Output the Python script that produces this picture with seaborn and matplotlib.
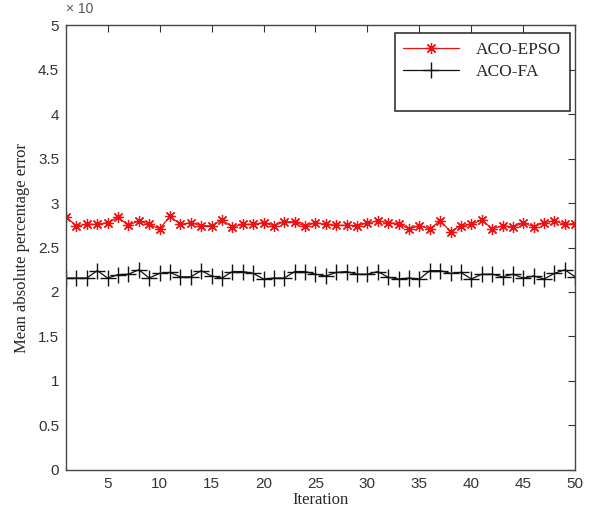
import numpy as np
import pandas as pd
import seaborn as sns
import matplotlib.pyplot as plt
from matplotlib.lines import Line2D

# Data (values in units of 10^x)
iterations = list(range(1, 51))
aco_epso = [2.84, 2.745, 2.76, 2.76, 2.78, 2.84, 2.75, 2.80, 2.76, 2.71,
            2.85, 2.76, 2.78, 2.745, 2.745, 2.81, 2.73, 2.76, 2.76, 2.78,
            2.745, 2.79, 2.79, 2.74, 2.78, 2.76, 2.75, 2.75, 2.745, 2.775,
            2.80, 2.78, 2.77, 2.71, 2.745, 2.71, 2.80, 2.68, 2.745, 2.76,
            2.81, 2.71, 2.745, 2.73, 2.775, 2.735, 2.78, 2.80, 2.76, 2.77]
aco_fa = [2.157, 2.157, 2.157, 2.24, 2.157, 2.195, 2.20, 2.25, 2.157, 2.21,
          2.22, 2.17, 2.17, 2.24, 2.18, 2.157, 2.23, 2.23, 2.21, 2.146,
          2.157, 2.157, 2.23, 2.23, 2.20, 2.18, 2.22, 2.23, 2.20, 2.20,
          2.23, 2.165, 2.146, 2.157, 2.146, 2.24, 2.24, 2.21, 2.22, 2.146,
          2.20, 2.20, 2.17, 2.20, 2.157, 2.18, 2.146, 2.21, 2.25, 2.17]
series_names = ['ACO-EPSO', 'ACO-FA']
yticks = [0, 0.5, 1, 1.5, 2, 2.5, 3, 3.5, 4, 4.5, 5]
xticks = [5, 10, 15, 20, 25, 30, 35, 40, 45, 50]

df = pd.DataFrame({'Iteration': iterations, 'ACO-EPSO': aco_epso, 'ACO-FA': aco_fa})

sns.set_style("white")
plt.rcParams['font.family'] = ['Liberation Sans', 'DejaVu Sans']

fig = plt.figure(figsize=(5.9, 5.13), dpi=100)
ax = fig.add_axes([0.112, 0.084, 0.863, 0.867])

# MATLAB-style asterisk (line art) and plus markers
sns.lineplot(data=df, x='Iteration', y='ACO-EPSO', color='#ee1111', marker=(8, 2, 0),
             markersize=8, markeredgewidth=0.9, markeredgecolor='#ee1111',
             linewidth=0.9, label=series_names[0], ax=ax)
sns.lineplot(data=df, x='Iteration', y='ACO-FA', color='#111111', marker='+',
             markersize=11, markeredgewidth=1.0, markeredgecolor='#111111',
             linewidth=0.9, label=series_names[1], ax=ax)

ax.set_xlim(1, 50)
ax.set_ylim(0, 5)
ax.set_xticks(xticks)
ax.set_yticks(yticks)
ax.set_yticklabels(['0', '0.5', '1', '1.5', '2', '2.5', '3', '3.5', '4', '4.5', '5'])
ax.tick_params(direction='in', top=True, right=True, length=5, width=0.8,
               labelsize=11, colors='#333333', labelcolor='#333333', pad=5)
for sp in ax.spines.values():
    sp.set_color('#444444')
    sp.set_linewidth(1.0)

ax.set_xlabel('Iteration', family='Liberation Serif', fontsize=12, labelpad=1)
ax.set_ylabel('Mean absolute percentage error', family='Liberation Serif', fontsize=12, labelpad=6)

# exponent label at the top left
fig.text(0.112, 0.997, '× 10', fontsize=10, color='#555555', va='top', ha='left')

# legend box in the reference is taller than its two entries
handles, labels = ax.get_legend_handles_labels()
handles.append(Line2D([], [], color='none'))
labels.append(' ')
leg = ax.legend(handles, labels, loc='upper right', bbox_to_anchor=(0.99, 0.982),
                borderaxespad=0, frameon=True, fancybox=False, edgecolor='black',
                handlelength=3.2, borderpad=0.5, labelspacing=0.35, handletextpad=1.0,
                prop={'family': 'Liberation Serif', 'size': 12.5})
leg.get_frame().set_linewidth(1.2)

fig.savefig('out.png', dpi=100)
